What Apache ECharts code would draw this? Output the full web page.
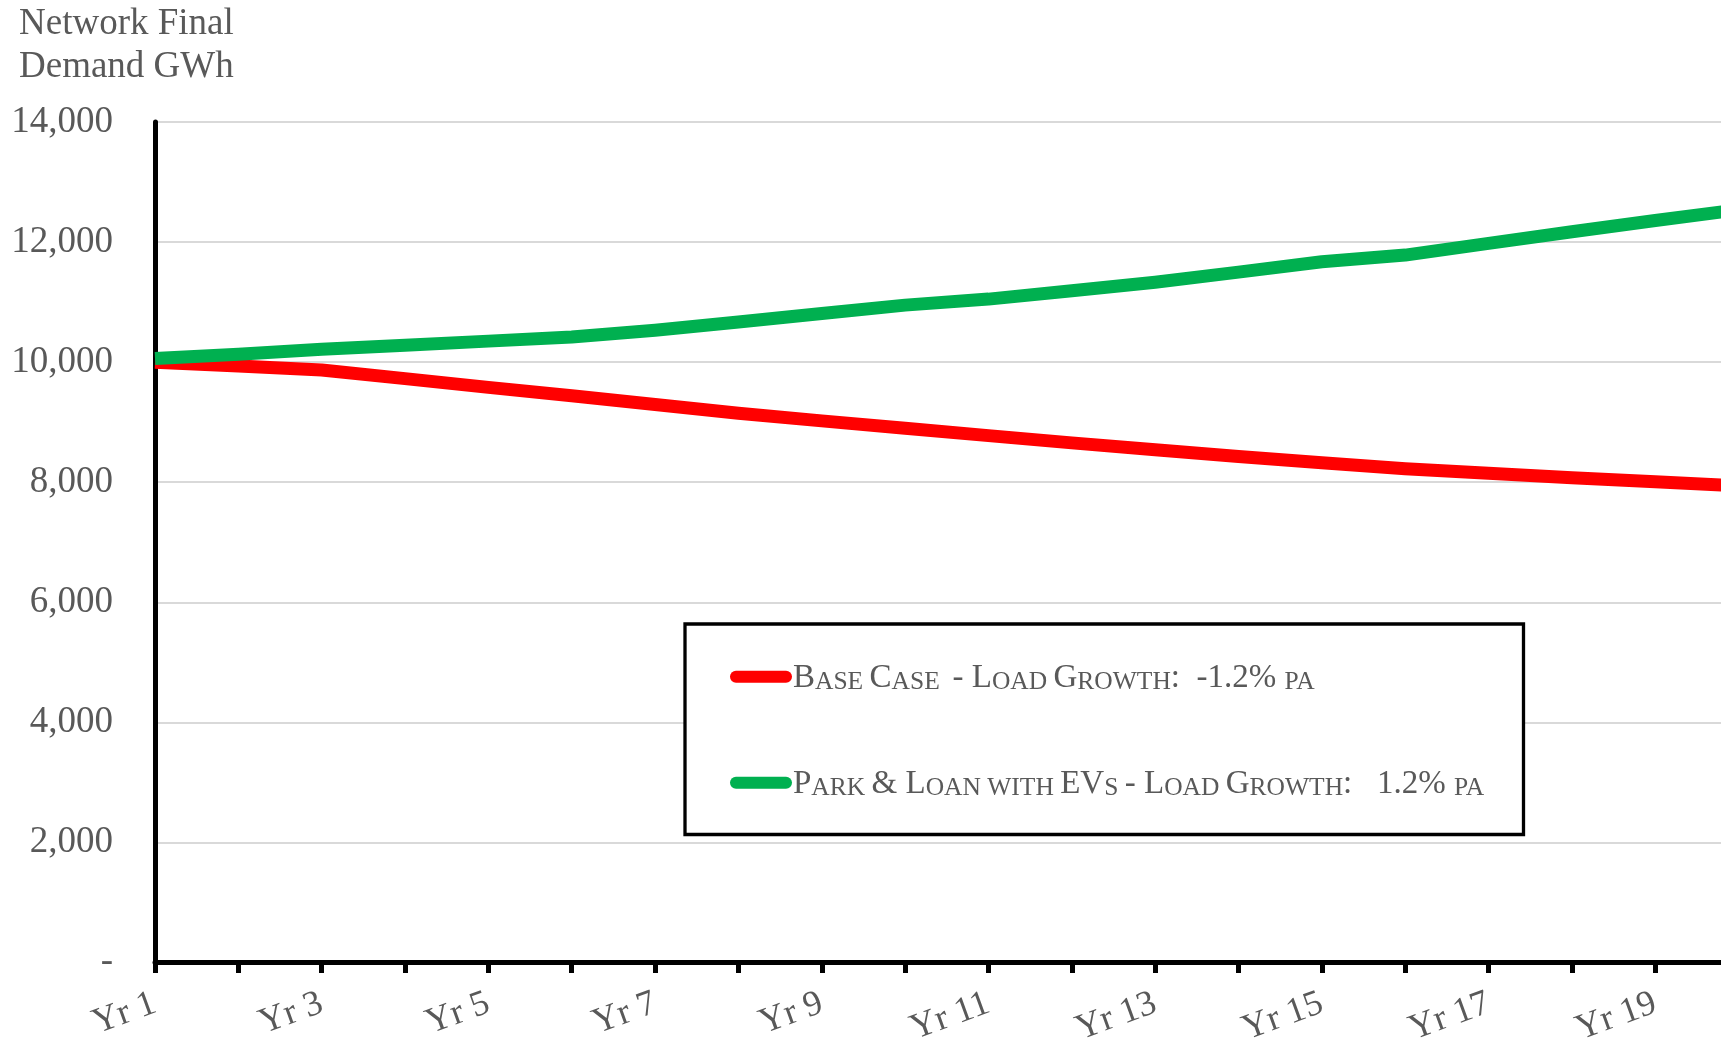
<!DOCTYPE html>
<html>
<head>
<meta charset="utf-8">
<title>Network Final Demand GWh</title>
<script src="https://cdn.jsdelivr.net/npm/echarts@6/dist/echarts.min.js"></script>
<style>
  html, body { margin: 0; padding: 0; background: #ffffff; }
  #chart { width: 1721px; height: 1044px; }
</style>
</head>
<body>
<div id="chart"></div>
<script>
// Forecast years on the category axis
const years = ['Yr 1', 'Yr 2', 'Yr 3', 'Yr 4', 'Yr 5', 'Yr 6', 'Yr 7', 'Yr 8', 'Yr 9', 'Yr 10',
               'Yr 11', 'Yr 12', 'Yr 13', 'Yr 14', 'Yr 15', 'Yr 16', 'Yr 17', 'Yr 18', 'Yr 19', 'Yr 20'];

// Network final demand, GWh
const baseCase = [10000, 9935, 9868, 9725, 9580, 9440, 9295, 9150, 9022, 8899,
                  8776, 8655, 8540, 8430, 8325, 8225, 8148, 8075, 8008, 7940];
const parkLoanEV = [10060, 10130, 10215, 10280, 10350, 10420, 10530, 10670, 10810, 10950,
                    11050, 11190, 11330, 11500, 11672, 11783, 11978, 12172, 12360, 12540];

const seriesNames = ['Base Case  - Load Growth:  -1.2% pa',
                     'Park & Loan with EVs - Load Growth:   1.2% pa'];
const seriesColors = ['#ff0000', '#00b050'];

const yMin = 0, yMax = 14000, yStep = 2000;

const FONT = '"Liberation Serif", "Times New Roman", serif';
const GREY = '#595959';

// Render a label in small capitals: lowercase letters become smaller uppercase
function smallCaps(text) {
  let out = '';
  let run = '';
  let runSmall = null;
  const flush = () => {
    if (run) out += '{' + (runSmall ? 's' : 'c') + '|' + run + '}';
    run = '';
  };
  for (const ch of text) {
    const isSmall = ch >= 'a' && ch <= 'z';
    if (runSmall !== null && isSmall !== runSmall && ch !== ' ') flush();
    if (ch !== ' ' || runSmall === null) runSmall = isSmall;
    run += isSmall ? ch.toUpperCase() : ch;
  }
  flush();
  return out;
}

const chart = echarts.init(document.getElementById('chart'), null, { renderer: 'canvas' });

chart.setOption({
  backgroundColor: '#ffffff',
  animation: false,
  title: {
    text: 'Network Final\nDemand GWh',
    left: 19,
    top: 3,
    padding: 0,
    textStyle: {
      fontFamily: FONT,
      fontSize: 37,
      fontWeight: 'normal',
      lineHeight: 43,
      color: GREY
    }
  },
  grid: {
    left: 155,
    right: -17.6,
    top: 122,
    bottom: 81.5,
    containLabel: false,
    outerBoundsMode: 'none'
  },
  legend: {
    orient: 'vertical',
    left: 730,
    top: 662,
    z: 10,
    padding: 0,
    itemGap: 73,
    itemWidth: 62,
    itemHeight: 13,
    icon: 'path://M6,0 L56,0 A6,6 0 0 1 56,12 L6,12 A6,6 0 0 1 6,0 Z',
    data: seriesNames,
    formatter: name => smallCaps(name),
    textStyle: {
      padding: [14, 0, 0, -4],
      rich: {
        c: { fontFamily: FONT, fontSize: 33, lineHeight: 22.3, verticalAlign: 'bottom', color: GREY },
        s: { fontFamily: FONT, fontSize: 25.5, lineHeight: 17.2, verticalAlign: 'bottom', color: GREY }
      }
    }
  },
  graphic: [{
    type: 'rect',
    z: 5,
    shape: { x: 685, y: 624, width: 838.5, height: 210.5 },
    style: { fill: '#ffffff', stroke: '#000000', lineWidth: 3.3 }
  }],
  xAxis: {
    type: 'category',
    data: years,
    boundaryGap: false,
    axisLine: { lineStyle: { color: '#000000', width: 5 } },
    axisTick: { show: true, interval: 0, length: 10.5, lineStyle: { color: '#000000', width: 5 } },
    axisLabel: {
      interval: 1,
      rotate: 20,
      margin: 40,
      fontFamily: FONT,
      fontSize: 36,
      color: GREY
    },
    splitLine: { show: false }
  },
  yAxis: {
    type: 'value',
    min: yMin,
    max: yMax,
    interval: yStep,
    axisLine: { show: true, lineStyle: { color: '#000000', width: 5 } },
    axisTick: { show: false },
    axisLabel: {
      margin: 42,
      fontFamily: FONT,
      fontSize: 37,
      color: GREY,
      formatter: v => v === 0 ? '-' : v.toLocaleString('en-US')
    },
    splitLine: { show: true, lineStyle: { color: '#d9d9d9', width: 2 } }
  },
  series: [
    {
      name: seriesNames[0],
      type: 'line',
      data: baseCase,
      showSymbol: false,
      symbol: 'none',
      smooth: false,
      z: 3,
      lineStyle: { color: seriesColors[0], width: 13, join: 'round' },
      itemStyle: { color: seriesColors[0] }
    },
    {
      name: seriesNames[1],
      type: 'line',
      data: parkLoanEV,
      showSymbol: false,
      symbol: 'none',
      smooth: false,
      z: 4,
      lineStyle: { color: seriesColors[1], width: 13, join: 'round' },
      itemStyle: { color: seriesColors[1] }
    }
  ]
});
</script>
</body>
</html>
